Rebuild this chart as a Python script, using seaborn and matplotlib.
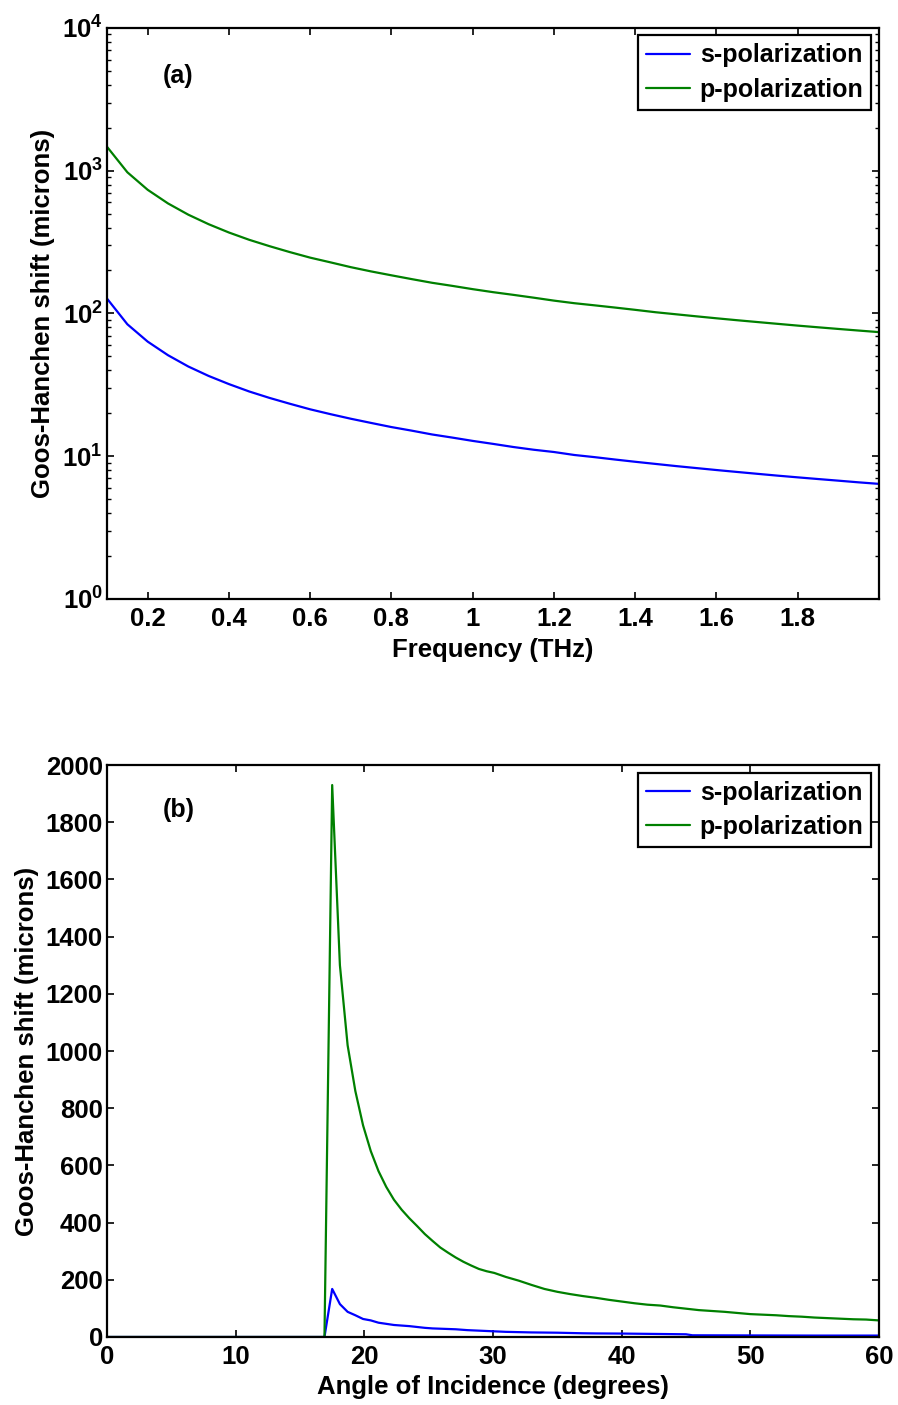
import matplotlib
matplotlib.use("Agg")
import matplotlib.pyplot as plt
import seaborn as sns
import numpy as np
import pandas as pd
from matplotlib.ticker import FixedLocator, FixedFormatter, LogLocator, NullFormatter

# ---------------- data: panel (a) ----------------
freq_thz = [0.10, 0.15, 0.20, 0.25, 0.30, 0.35, 0.40, 0.45, 0.50, 0.55,
            0.60, 0.65, 0.70, 0.75, 0.80, 0.85, 0.90, 0.95, 1.00, 1.05,
            1.10, 1.15, 1.20, 1.25, 1.30, 1.35, 1.40, 1.45, 1.50, 1.55,
            1.60, 1.65, 1.70, 1.75, 1.80, 1.85, 1.90, 1.95, 2.00]
s_pol_a = [127, 84, 63.5, 51, 42.5, 36.5, 32.0, 28.4, 25.6, 23.3,
           21.3, 19.7, 18.3, 17.1, 16.0, 15.1, 14.2, 13.5, 12.8, 12.2,
           11.6, 11.1, 10.7, 10.2, 9.85, 9.48, 9.14, 8.83, 8.53, 8.26,
           8.00, 7.76, 7.53, 7.31, 7.11, 6.92, 6.74, 6.56, 6.40]
p_pol_a = [1470, 975, 735, 590, 492, 422, 369, 328, 296, 269,
           246, 228, 211, 197, 185, 174, 164, 156, 148, 141,
           135, 129, 123, 118, 114, 110, 106, 102, 98.7, 95.5,
           92.5, 89.7, 87.1, 84.6, 82.2, 80.0, 77.9, 75.9, 74.0]

# ---------------- data: panel (b) ----------------
angle_p = [0, 16.9, 17.5, 18.1, 18.7, 19.3, 19.9, 20.5, 21.1, 21.7, 22.3,
           22.9, 23.5, 24.1, 24.7, 25.3, 25.9, 26.5, 27.1, 27.7, 28.3,
           28.9, 29.5, 30.1, 31, 32, 33, 34, 35, 36, 37, 38, 39, 40, 41,
           42, 43, 44, 45, 46, 47, 48, 49, 50, 51, 52, 53, 54, 55, 56,
           57, 58, 59, 60]
p_pol_b = [0, 0, 1930, 1300, 1020, 860, 740, 650, 580, 525, 480,
           445, 415, 388, 360, 336, 313, 295, 278, 263, 250,
           238, 230, 224, 210, 197, 182, 168, 158, 150, 143, 137, 130, 124, 118,
           113, 110, 104, 99, 94, 91, 88, 84, 80, 78, 76, 73, 71, 68, 66,
           64, 62, 61, 58]
angle_s = [0, 16.9, 17.5, 18.1, 18.7, 19.3, 19.9, 20.5, 21.1, 21.7, 22.3,
           22.9, 23.5, 24.1, 24.7, 25.3, 25.9, 26.5, 27.1, 28, 29, 30, 31,
           32, 33, 34, 35, 36, 37, 38, 40, 42, 44, 45, 45.5, 50, 55, 60]
s_pol_b = [0, 0, 168, 115, 88, 76, 63, 58, 50, 46, 42,
           40, 38, 35, 32, 30, 29, 28, 27, 24, 22, 20, 18,
           17, 16, 15.5, 15, 14, 13, 12.5, 12, 11, 10, 9.5, 6, 5.5, 5, 5]

labels = ["s-polarization", "p-polarization"]
blue = (0, 0, 1)
green = (0, 0.5, 0)

sns.set_theme(style="ticks")
plt.rcParams['font.family'] = ['Liberation Sans', 'DejaVu Sans']
plt.rcParams['font.weight'] = 'bold'
plt.rcParams['text.color'] = 'black'
plt.rcParams['axes.labelcolor'] = 'black'
plt.rcParams['xtick.color'] = 'black'
plt.rcParams['ytick.color'] = 'black'
plt.rcParams['mathtext.fontset'] = 'custom'
plt.rcParams['mathtext.rm'] = 'Liberation Sans:bold'
plt.rcParams['mathtext.bf'] = 'Liberation Sans:bold'
plt.rcParams['axes.linewidth'] = 1.6

FS = 18.5

fig = plt.figure(figsize=(8.98, 14.05), dpi=100)
ax1 = fig.add_axes([0.1192, 0.5737, 0.8596, 0.4064])
ax2 = fig.add_axes([0.1192, 0.0484, 0.8596, 0.4071])

df_a = pd.DataFrame({"f": freq_thz + freq_thz,
                     "v": s_pol_a + p_pol_a,
                     "pol": [labels[0]] * len(freq_thz) + [labels[1]] * len(freq_thz)})
sns.lineplot(data=df_a, x="f", y="v", hue="pol", palette=[blue, green],
             linewidth=1.6, ax=ax1)
ax1.set_yscale('log')
ax1.set_xlim(0.1, 2.0)
ax1.set_ylim(1, 1e4)
ax1.xaxis.set_major_locator(FixedLocator([0.2, 0.4, 0.6, 0.8, 1.0, 1.2, 1.4, 1.6, 1.8]))
ax1.xaxis.set_major_formatter(FixedFormatter(["0.2", "0.4", "0.6", "0.8", "1", "1.2", "1.4", "1.6", "1.8"]))
ax1.yaxis.set_major_locator(FixedLocator([1, 10, 100, 1000, 10000]))
ax1.yaxis.set_major_formatter(FixedFormatter([r'$\mathbf{10^{0}}$', r'$\mathbf{10^{1}}$',
                                              r'$\mathbf{10^{2}}$', r'$\mathbf{10^{3}}$',
                                              r'$\mathbf{10^{4}}$']))
ax1.yaxis.set_minor_locator(LogLocator(base=10, subs=np.arange(2, 10), numticks=20))
ax1.yaxis.set_minor_formatter(NullFormatter())
ax1.set_xlabel("Frequency (THz)", fontsize=FS, fontweight='bold', labelpad=5)
ax1.set_ylabel("Goos-Hanchen shift (microns)", fontsize=FS, fontweight='bold', labelpad=5)
ax1.text(0.0725, 0.916, "(a)", transform=ax1.transAxes, fontsize=18,
         fontweight='bold', va='center', ha='left')

df_b = pd.DataFrame({"a": angle_s + angle_p,
                     "v": s_pol_b + p_pol_b,
                     "pol": [labels[0]] * len(angle_s) + [labels[1]] * len(angle_p)})
sns.lineplot(data=df_b, x="a", y="v", hue="pol", palette=[blue, green],
             linewidth=1.6, ax=ax2)
ax2.set_xlim(0, 60)
ax2.set_ylim(0, 2000)
ax2.xaxis.set_major_locator(FixedLocator([0, 10, 20, 30, 40, 50, 60]))
ax2.yaxis.set_major_locator(FixedLocator(list(range(0, 2001, 200))))
ax2.set_xlabel("Angle of Incidence (degrees)", fontsize=FS, fontweight='bold', labelpad=4)
ax2.set_ylabel("Goos-Hanchen shift (microns)", fontsize=FS, fontweight='bold', labelpad=5)
ax2.text(0.0725, 0.921, "(b)", transform=ax2.transAxes, fontsize=18,
         fontweight='bold', va='center', ha='left')

for ax in (ax1, ax2):
    for sp in ax.spines.values():
        sp.set_visible(True)
        sp.set_linewidth(1.6)
        sp.set_color('black')
    ax.tick_params(which='major', direction='in', length=5, width=1.2,
                   top=True, right=True, labelsize=FS, colors='black')
    ax.tick_params(which='minor', direction='in', length=3, width=1.0,
                   top=False, right=True, left=True)
    ax.tick_params(axis='x', pad=6)
    ax.tick_params(axis='y', pad=3)
    for t in ax.get_xticklabels() + ax.get_yticklabels():
        t.set_fontweight('bold')
    leg = ax.legend(loc='upper right', frameon=True, fancybox=False,
                    edgecolor='black', framealpha=1, borderaxespad=0.3,
                    handlelength=1.75, handletextpad=0.4, labelspacing=0.42,
                    borderpad=0.32, prop={'weight': 'bold', 'size': 18})
    leg.get_frame().set_linewidth(1.6)
    for t in leg.get_texts():
        t.set_color('black')
    ax.grid(False)

fig.savefig("out.png", dpi=100, facecolor='white')
